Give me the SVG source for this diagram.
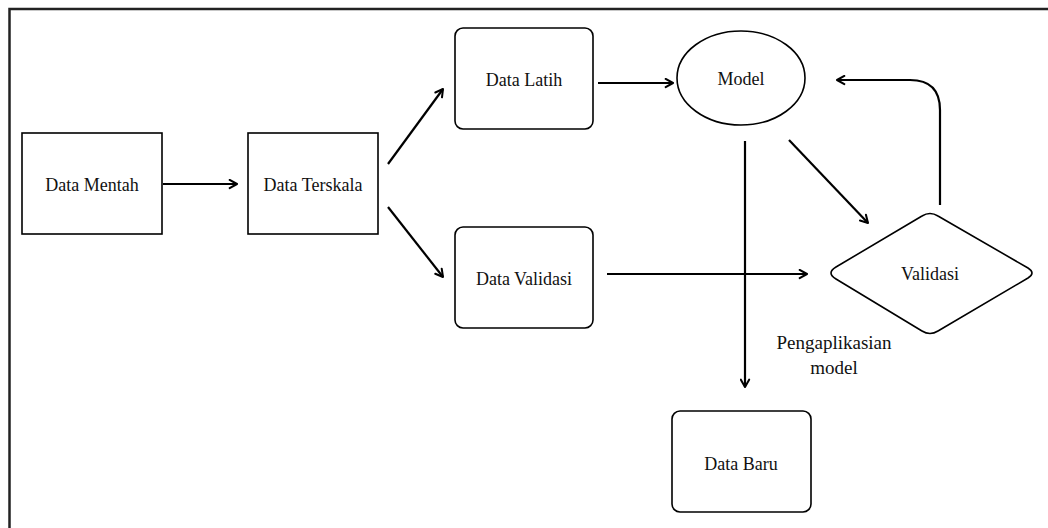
<svg xmlns="http://www.w3.org/2000/svg" width="1048" height="528" viewBox="0 0 1048 528">
<style>
.box{fill:#fff;stroke:#000;stroke-width:1.6}
.t{font-family:"Liberation Serif","Times New Roman",serif;font-size:18px;fill:#111;text-anchor:middle}
.c{fill:none;stroke:#000;stroke-width:2.2}
</style>
<defs>
<marker id="ah" viewBox="0 0 12 12" refX="10" refY="6" markerWidth="5" markerHeight="5" orient="auto" markerUnits="strokeWidth">
<path d="M2,1.5 L10,6 L2,10.5" fill="none" stroke="#000" stroke-width="2.2" stroke-linecap="round" stroke-linejoin="round"/>
</marker>
</defs>
<rect width="1048" height="528" fill="#fff"/>
<path d="M9.5,528 V9 H1048" fill="none" stroke="#222" stroke-width="2.5"/>
<g id="n-mentah"><rect class="box" x="22" y="133" width="140" height="101"/><text class="t" x="92" y="191">Data Mentah</text></g>
<g id="n-terskala"><rect class="box" x="248" y="133" width="130" height="101"/><text class="t" x="313" y="191">Data Terskala</text></g>
<g id="n-latih"><rect class="box" x="455" y="28" width="138" height="101" rx="8"/><text class="t" x="524" y="86">Data Latih</text></g>
<g id="n-validasi-data"><rect class="box" x="455" y="227" width="138" height="101" rx="8"/><text class="t" x="524" y="285">Data Validasi</text></g>
<g id="n-model"><ellipse class="box" cx="741" cy="78" rx="64" ry="47"/><text class="t" x="741" y="85">Model</text></g>
<g id="n-validasi"><path class="box" d="M836,267 L922,216 Q930,211 938,216 L1028,268 Q1036,273 1028,278 L938,331 Q930,336 922,331 L836,279 Q826,273 836,267 Z"/><text class="t" x="930" y="280">Validasi</text></g>
<g id="n-baru"><rect class="box" x="672" y="411" width="139" height="101" rx="8"/><text class="t" x="741" y="470">Data Baru</text></g>
<g id="connectors">
<line class="c" x1="163" y1="184" x2="237" y2="184" marker-end="url(#ah)"/>
<line class="c" x1="388" y1="164" x2="443" y2="89" marker-end="url(#ah)"/>
<line class="c" x1="388" y1="207" x2="443" y2="277" marker-end="url(#ah)"/>
<line class="c" x1="598" y1="83" x2="673" y2="83" marker-end="url(#ah)"/>
<line class="c" x1="607" y1="274" x2="807" y2="274" marker-end="url(#ah)"/>
<line class="c" x1="745" y1="141" x2="745" y2="387" marker-end="url(#ah)"/>
<line class="c" x1="789" y1="140" x2="868" y2="223" marker-end="url(#ah)"/>
<path class="c" d="M940,205 V110 Q940,80 910,80 H837" marker-end="url(#ah)"/>
<text class="t" x="834" y="349" style="font-size:19px">Pengaplikasian</text>
<text class="t" x="834" y="374" style="font-size:19px">model</text>
</g>
</svg>
